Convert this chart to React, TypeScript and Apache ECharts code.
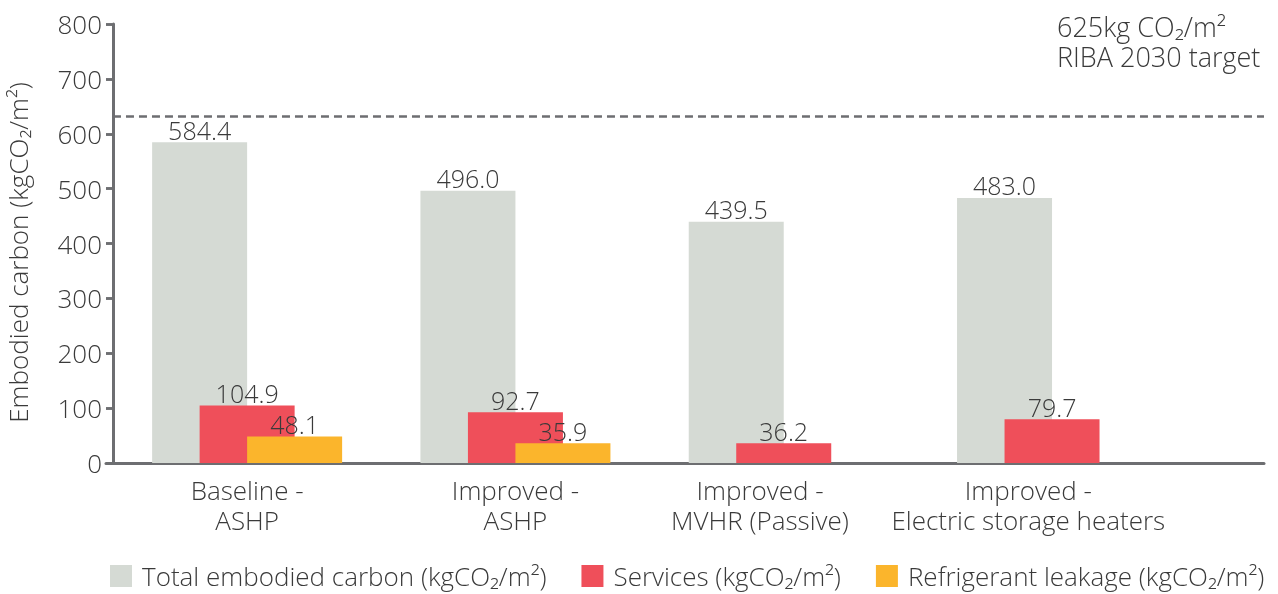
import React, { useEffect, useRef } from "react";
import * as echarts from "echarts";

const categories = [
  "Baseline -\nASHP",
  "Improved -\nASHP",
  "Improved -\nMVHR (Passive)",
  "Improved -\nElectric storage heaters",
];
const totalValues = [584.4, 496.0, 439.5, 483.0];
const servicesValues = [104.9, 92.7, 36.2, 79.7];
const refrigerantValues: (number | null)[] = [48.1, 35.9, null, null];
const seriesNames = [
  "Total embodied carbon (kgCO\u2082/m\u00B2)",
  "Services (kgCO\u2082/m\u00B2)",
  "Refrigerant leakage (kgCO\u2082/m\u00B2)",
];
const Y_MIN = 0;
const Y_MAX = 800;
const Y_INTERVAL = 100;
const TARGET_LINE = 631;
const targetText = ["625kg CO\u2082/m\u00B2", "RIBA 2030 target"];

// layout constants
const FONT = "'Open Sans', Lato, sans-serif";
const FW = 300;
const FS = 26;
const FS_DATA = 25;
const TEXT = "#3a3a3a";
const AXIS = "#6d6e71";
const COLORS = ["#d5dad4", "#ef4f5a", "#fbb52c"];
const BAR_W = 95;
const PX_PER_UNIT = 268.3;
const X_MIN = -0.026;
const X_MAX = 4.29;

export default function App() {
  const ref = useRef<HTMLDivElement>(null);
  useEffect(() => {
    if (!ref.current) return;
    const chart = echarts.init(ref.current, undefined, { renderer: "svg" });
    const all = [totalValues, servicesValues, refrigerantValues];
    const labelPos = categories.map((_, i) => {
      const n = all.filter((a) => a[i] != null).length;
      return i + 0.5 - ((3 - n) * BAR_W) / 4 / PX_PER_UNIT;
    });
    const toData = (arr: (number | null)[]) =>
      arr.map((v, i) => (v == null ? [i + 0.5, null] : [i + 0.5, v]));
    const dataLabel = {
      show: true,
      position: "top" as const,
      distance: 0,
      fontFamily: FONT,
      fontWeight: FW,
      fontSize: FS_DATA,
      color: TEXT,
      formatter: (p: any) => Number(p.value[1]).toFixed(1),
    };
    const mkSeries = (idx: number, arr: (number | null)[]) => ({
      name: seriesNames[idx],
      type: "bar" as const,
      data: toData(arr),
      barWidth: BAR_W,
      barGap: "-50%",
      itemStyle: { color: COLORS[idx] },
      label: dataLabel,
      z: 2 + idx,
    });
    const targetSeries = {
      name: "target",
      type: "line" as const,
      data: [],
      silent: true,
      markLine: {
        silent: true,
        symbol: "none",
        label: { show: false },
        lineStyle: { type: [8, 5], color: AXIS, width: 2.5 },
        data: [[{ coord: [0, TARGET_LINE] }, { coord: [X_MAX, TARGET_LINE] }]],
      },
    };
    chart.setOption({
      animation: false,
      textStyle: { fontFamily: FONT },
      grid: {
        left: 106,
        right: 14,
        top: 24,
        bottom: 131,
        containLabel: false,
        outerBoundsMode: "none",
      },
      legend: {
        left: 105,
        top: 558,
        itemWidth: 22,
        itemHeight: 22,
        itemGap: 35,
        icon: "rect",
        textStyle: {
          fontFamily: FONT,
          fontWeight: FW,
          fontSize: FS,
          lineHeight: 26,
          color: TEXT,
          padding: [0, 0, 0, 5],
        },
        data: seriesNames,
      },
      xAxis: {
        type: "value",
        min: X_MIN,
        max: X_MAX,
        splitLine: { show: false },
        axisTick: { show: false },
        axisLine: { show: true, lineStyle: { color: AXIS, width: 3 } },
        axisLabel: {
          customValues: labelPos,
          formatter: (v: number) => categories[Math.round(v - 0.5)] ?? "",
          fontFamily: FONT,
          fontWeight: FW,
          fontSize: FS,
          lineHeight: 30,
          color: TEXT,
          margin: 12,
        },
      },
      yAxis: [
        {
          type: "value",
          min: Y_MIN,
          max: Y_MAX,
          interval: Y_INTERVAL,
          name: "Embodied carbon (kgCO\u2082/m\u00B2)",
          nameLocation: "middle",
          nameGap: 75,
          nameTextStyle: {
            fontFamily: FONT,
            fontWeight: FW,
            fontSize: FS,
            color: TEXT,
            padding: [0, 18, 0, 0],
          },
          splitLine: { show: false },
          axisLine: { show: true, onZero: true, lineStyle: { color: AXIS, width: 3 } },
          axisTick: { show: true, length: 7, lineStyle: { color: AXIS, width: 2.5 } },
          axisLabel: { fontFamily: FONT, fontWeight: FW, fontSize: FS, color: TEXT, margin: 4 },
        },
        {
          type: "value",
          min: Y_MIN,
          max: Y_MAX,
          interval: Y_INTERVAL,
          position: "left",
          splitLine: { show: false },
          axisLine: { show: false, onZero: true },
          axisTick: { show: true, inside: true, length: 6, lineStyle: { color: AXIS, width: 2.5 } },
          axisLabel: { show: false },
        },
      ],
      graphic: [
        {
          type: "text",
          left: 1057,
          top: 11,
          style: {
            text: targetText.join("\n"),
            fontFamily: FONT,
            fontWeight: FW,
            fontSize: 27,
            lineHeight: 30,
            fill: TEXT,
          },
        },
      ],
      series: [
        mkSeries(0, totalValues),
        mkSeries(1, servicesValues),
        mkSeries(2, refrigerantValues),
        targetSeries,
      ],
    });
    return () => chart.dispose();
  }, []);
  return (
    <div
      ref={ref}
      style={{ position: "fixed", left: 0, top: 0, width: 1278, height: 594 }}
    />
  );
}
